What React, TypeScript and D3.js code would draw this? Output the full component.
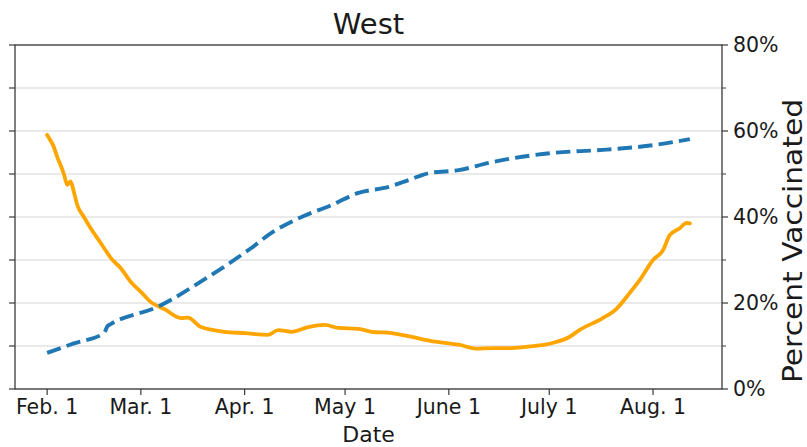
import React from "react";
import * as d3 from "d3";

// ---- data ----
const vaxDates = [
  "2021-02-01", "2021-02-09", "2021-02-18", "2021-02-19", "2021-02-20", "2021-03-06",
  "2021-03-21", "2021-04-03", "2021-04-09", "2021-04-18", "2021-04-27", "2021-05-05",
  "2021-05-14", "2021-05-20", "2021-05-26", "2021-06-04", "2021-06-13", "2021-07-02",
  "2021-07-17", "2021-08-01", "2021-08-12",
];
const vaxValues = [
  8.4, 10.6, 13.0, 14.6, 15.1, 19.1,
  26.0, 32.8, 36.3, 40.0, 42.8, 45.6,
  47.0, 48.6, 50.2, 50.9, 52.6, 54.9,
  55.6, 56.7, 58.1,
];

const caseDates = [
  "2021-02-01", "2021-02-02", "2021-02-03", "2021-02-04", "2021-02-05", "2021-02-06",
  "2021-02-07", "2021-02-08", "2021-02-09", "2021-02-10", "2021-02-12", "2021-02-14",
  "2021-02-16", "2021-02-18", "2021-02-20", "2021-02-23", "2021-02-26", "2021-03-01",
  "2021-03-04", "2021-03-08", "2021-03-13", "2021-03-15", "2021-03-19", "2021-03-26",
  "2021-04-01", "2021-04-08", "2021-04-11", "2021-04-15", "2021-04-20", "2021-04-25",
  "2021-04-29", "2021-05-05", "2021-05-09", "2021-05-15", "2021-05-21", "2021-05-28",
  "2021-06-01", "2021-06-04", "2021-06-09", "2021-06-14", "2021-06-19", "2021-06-24",
  "2021-07-02", "2021-07-07", "2021-07-10", "2021-07-17", "2021-07-21", "2021-07-25",
  "2021-07-28", "2021-08-01", "2021-08-04", "2021-08-06", "2021-08-09", "2021-08-11",
  "2021-08-12",
];
const caseValues = [
  59.1, 57.8, 56.3, 54.0, 52.1, 50.0,
  47.5, 48.3, 45.8, 42.8, 40.0, 37.4,
  35.1, 32.8, 30.5, 28.1, 24.9, 22.6,
  20.2, 18.6, 16.5, 16.6, 14.4, 13.3,
  13.0, 12.6, 13.7, 13.3, 14.4, 14.9,
  14.2, 14.0, 13.3, 13.0, 12.1, 11.0,
  10.6, 10.3, 9.4, 9.5, 9.5, 9.8,
  10.7, 12.1, 13.7, 16.5, 18.6, 22.3,
  25.3, 30.0, 32.3, 35.8, 37.4, 38.6,
  38.5,
];

const xTickDates = ["2021-02-01", "2021-03-01", "2021-04-01", "2021-05-01", "2021-06-01", "2021-07-01", "2021-08-01"];
const xTickLabels = ["Feb. 1", "Mar. 1", "Apr. 1", "May 1", "June 1", "July 1", "Aug. 1"];
const rightTicks = [0, 20, 40, 60, 80];
const rightMinorTicks = [10, 30, 50, 70];
const leftTicks = [0, 10, 20, 30, 40, 50, 60, 70, 80];

const title = "West";
const xLabel = "Date";
const yLabel = "Percent Vaccinated";

const parse = d3.timeParse("%Y-%m-%d");

export default function App() {
  const W = 807, H = 447;
  const left = 15, right = 722, top = 45, bottom = 389;
  const font = "DejaVu Sans, sans-serif";

  const vax = vaxDates.map((d, i) => ({ date: parse(d) as Date, v: vaxValues[i] }));
  const cases = caseDates.map((d, i) => ({ date: parse(d) as Date, v: caseValues[i] }));

  const allDates = [...vax, ...cases].map((d) => d.date.getTime());
  const t0 = d3.min(allDates) as number;
  const t1 = d3.max(allDates) as number;
  const pad = (t1 - t0) * 0.05;
  const x = d3.scaleTime().domain([new Date(t0 - pad), new Date(t1 + pad)]).range([left, right]);
  const yR = d3.scaleLinear().domain([0, 80]).range([bottom, top]);
  const yL = d3.scaleLinear().domain([0, 80]).range([bottom, top]);

  const vaxLine = d3.line<{ date: Date; v: number }>()
    .x((d) => x(d.date)).y((d) => yR(d.v)).curve(d3.curveMonotoneX);
  const caseLine = d3.line<{ date: Date; v: number }>()
    .x((d) => x(d.date)).y((d) => yL(d.v)).curve(d3.curveMonotoneX);

  const spine = "#3a3a3a";
  const tickLen = 6;

  return (
    <svg width={W} height={H} style={{ position: "absolute", left: 0, top: 0, background: "#fff" }}>
      <rect x={0} y={0} width={W} height={H} fill="#fff" />
      {/* grid */}
      {leftTicks.map((t) => (
        <line key={"g" + t} x1={left} x2={right} y1={yL(t)} y2={yL(t)} stroke="#e3e3e3" strokeWidth={1.5} />
      ))}
      {/* lines */}
      <path d={caseLine(cases) || ""} fill="none" stroke="#FFA500" strokeWidth={3.8} strokeLinejoin="round" strokeLinecap="round" />
      <path d={vaxLine(vax) || ""} fill="none" stroke="#1f77b4" strokeWidth={3.9} strokeDasharray="14.4 6.2" />
      {/* spines */}
      <rect x={left} y={top} width={right - left} height={bottom - top} fill="none" stroke={spine} strokeWidth={1.3} />
      {/* left ticks */}
      {leftTicks.map((t) => (
        <line key={"l" + t} x1={left - tickLen} x2={left} y1={yL(t)} y2={yL(t)} stroke={spine} strokeWidth={1.2} />
      ))}
      {/* right ticks */}
      {rightTicks.map((t) => (
        <g key={"r" + t}>
          <line x1={right} x2={right + tickLen} y1={yR(t)} y2={yR(t)} stroke={spine} strokeWidth={1.2} />
          <text x={right + 11} y={yR(t)} dy="0.36em" fontFamily={font} fontSize={20.5} fill="#1a1a1a">{t}%</text>
        </g>
      ))}
      {rightMinorTicks.map((t) => (
        <line key={"rm" + t} x1={right} x2={right + 4} y1={yR(t)} y2={yR(t)} stroke={spine} strokeWidth={1} />
      ))}
      {/* x ticks */}
      {xTickDates.map((d, i) => {
        const px = x(parse(d) as Date);
        return (
          <g key={"x" + d}>
            <line x1={px} x2={px} y1={bottom} y2={bottom + tickLen} stroke={spine} strokeWidth={1.2} />
            <text x={px} y={414} textAnchor="middle" fontFamily={font} fontSize={20.5} fill="#1a1a1a">{xTickLabels[i]}</text>
          </g>
        );
      })}
      {/* labels */}
      <text x={(left + right) / 2} y={442} textAnchor="middle" fontFamily={font} fontSize={22} fill="#1a1a1a">{xLabel}</text>
      <text x={(left + right) / 2} y={34} textAnchor="middle" fontFamily={font} fontSize={29} fill="#1a1a1a">{title}</text>
      <text transform={`translate(802, 241) rotate(-90)`} textAnchor="middle" fontFamily={font} fontSize={26}
        textLength={284} lengthAdjust="spacingAndGlyphs" fill="#1a1a1a">{yLabel}</text>
    </svg>
  );
}
